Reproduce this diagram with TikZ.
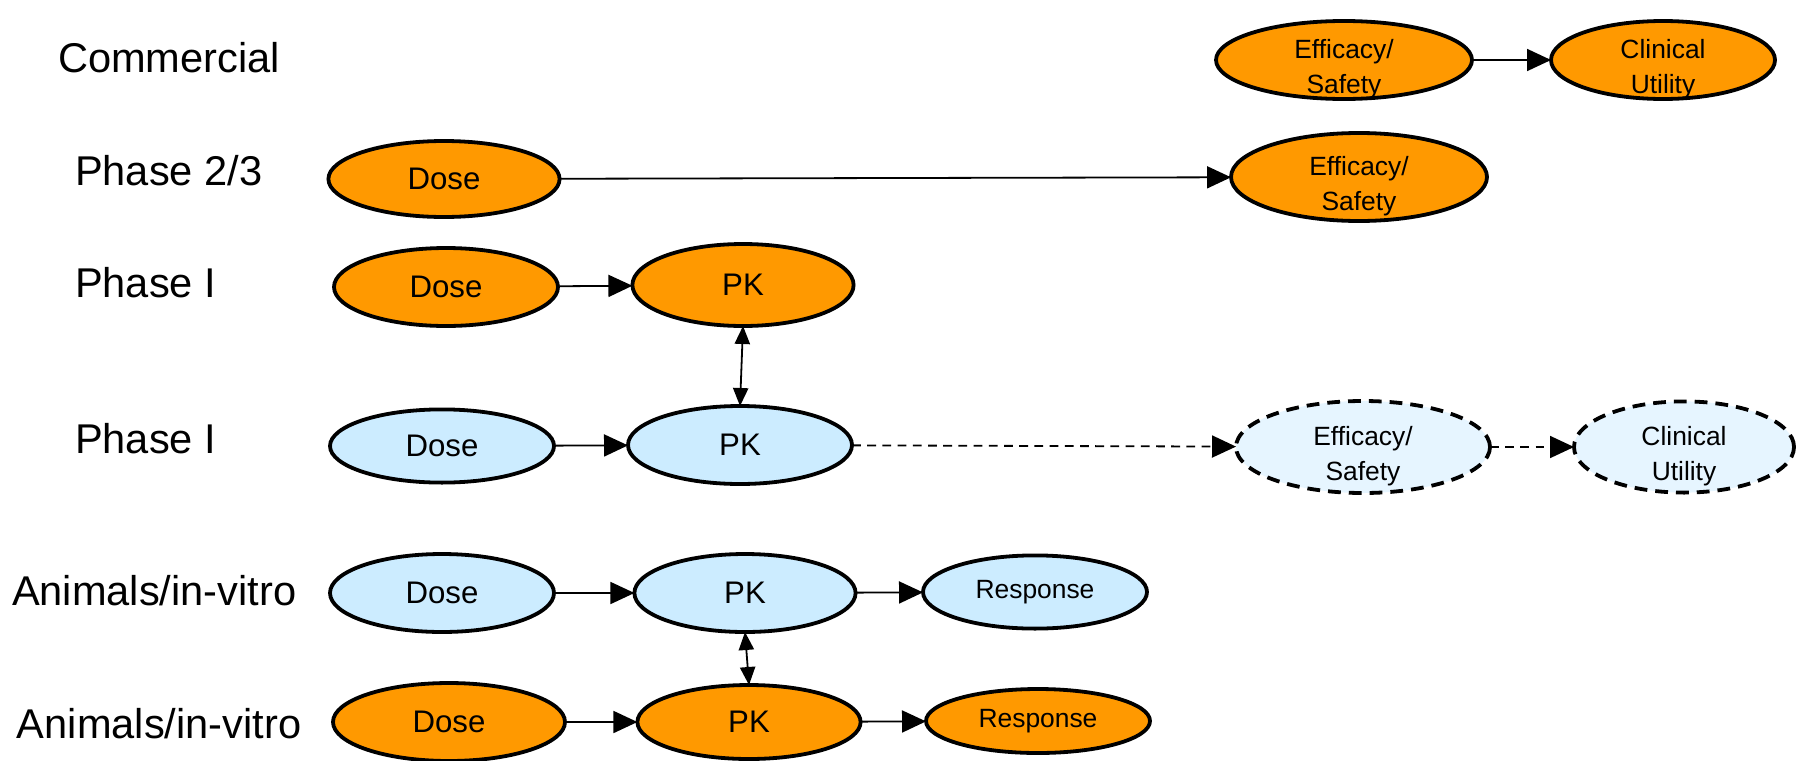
\documentclass[tikz,border=0pt]{standalone}
\usepackage{fontspec}
\setmainfont{Liberation Sans}
\usetikzlibrary{shapes.geometric,arrows.meta}
\definecolor{cff9900}{RGB}{255,153,0}
\definecolor{cccecff}{RGB}{204,236,255}
\definecolor{ce6f5ff}{RGB}{230,245,255}
% two lines, set a little below the middle of the node
\newcommand{\twolines}[2]{\raisebox{-4pt}[0pt][0pt]{\begin{tabular}{@{}c@{}}#1\\#2\end{tabular}}}

\begin{document}
\begin{tikzpicture}[x=0.25pt,y=-0.25pt,inner sep=0pt,outer sep=0pt,
  ell/.style={ellipse,draw=black,line width=0.95pt,minimum width=56pt,minimum height=19.5pt,
    font=\fontsize{7.8}{9}\selectfont},
  ellsm/.style={ell,font=\fontsize{6.6}{8.6}\selectfont},
  effbox/.style={ellsm,minimum width=64pt,minimum height=21pt},
  ornode/.style={fill=cff9900},
  blnode/.style={fill=cccecff},
  palenode/.style={fill=ce6f5ff,dash pattern=on 3.2pt off 2pt},
  rowlabel/.style={anchor=west,font=\fontsize{10.4}{12}\selectfont},
  arr/.style={-{Triangle[length=6pt,width=5.5pt]},line width=0.45pt},
  dasharr/.style={arr,dash pattern=on 2.2pt off 1.6pt},
  dblarr/.style={{Triangle[length=4.5pt,width=3.8pt]}-{Triangle[length=4.5pt,width=3.8pt]},line width=0.45pt}]
  \useasboundingbox (0,0) rectangle (1808,760);

  % row labels
  \node[rowlabel] (lcom) at (58,58) {Commercial};
  \node[rowlabel] (lph23) at (75,171) {Phase 2/3};
  \node[rowlabel] (lph1a) at (75,283) {Phase I};
  \node[rowlabel] (lph1b) at (75,439) {Phase I};
  \node[rowlabel] (lanima) at (12,591) {Animals/in-vitro};
  \node[rowlabel] (lanimb) at (17,724) {Animals/in-vitro};

  % commercial
  \node[effbox,ornode,minimum height=19.5pt] (comEff) at (1344,60) {\twolines{Efficacy/}{Safety}};
  \node[ellsm,ornode] (comClin) at (1663,60) {\twolines{Clinical}{Utility}};
  \draw[arr] (comEff) -- (comClin);

  % phase 2/3
  \node[ell,ornode,minimum width=57.8pt,minimum height=19pt] (ptDose) at (444,179) {Dose};
  \node[effbox,ornode,minimum height=22pt] (ptEff) at (1359,177) {\twolines{Efficacy/}{Safety}};
  \draw[arr] (ptDose) -- (ptEff);

  % phase I (orange)
  \node[ell,ornode] (poDose) at (446,287) {Dose};
  \node[ell,ornode,minimum width=55.3pt,minimum height=20.5pt] (poPK) at (743,285) {PK};
  \draw[arr] (poDose) -- (poPK);

  % phase I (blue)
  \node[ell,blnode,minimum height=18.3pt] (pbDose) at (442,446) {Dose};
  \node[ell,blnode] (pbPK) at (740,445) {PK};
  \node[effbox,palenode,minimum width=63.5pt,minimum height=23pt] (pbEff) at (1363,447) {\twolines{Efficacy/}{Safety}};
  \node[ellsm,palenode,minimum width=55pt,minimum height=22.8pt] (pbClin) at (1684,447) {\twolines{Clinical}{Utility}};
  \draw[arr] (pbDose) -- (pbPK);
  \draw[dasharr] (pbPK) -- (pbEff);
  \draw[dasharr] (pbEff) -- (pbClin);
  \draw[dblarr] (poPK.south) -- (pbPK.north);

  % animals (blue)
  \node[ell,blnode] (abDose) at (442,593) {Dose};
  \node[ell,blnode,minimum width=55.3pt] (abPK) at (745,593) {PK};
  \node[ellsm,blnode,minimum height=18.3pt] (abResp) at (1035,592) {Response};
  \draw[arr] (abDose) -- (abPK);
  \draw[arr] (abPK) -- (abResp);

  % animals (orange)
  \node[ell,ornode,minimum width=58pt] (aoDose) at (449,722) {Dose};
  \node[ell,ornode,minimum width=55.8pt,minimum height=18.5pt] (aoPK) at (749,722) {PK};
  \node[ellsm,ornode,minimum height=16pt] (aoResp) at (1038,721) {Response};
  \draw[arr] (aoDose) -- (aoPK);
  \draw[arr] (aoPK) -- (aoResp);
  \draw[dblarr] (abPK.south) -- (aoPK.north);
\end{tikzpicture}
\end{document}
